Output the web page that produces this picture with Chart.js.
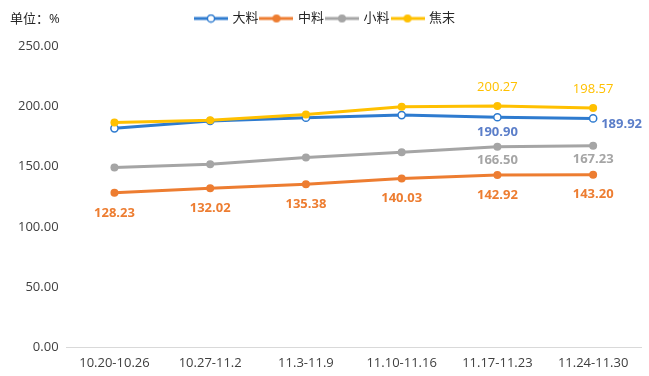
<!DOCTYPE html>
<html>
<head>
<meta charset="utf-8">
<script src="https://cdn.jsdelivr.net/npm/chart.js@4.4.1/dist/chart.umd.min.js"></script>
<style>
  html, body { margin: 0; padding: 0; background: #fff; }
  #wrap { width: 649px; height: 376px; }
</style>
</head>
<body>
<div id="wrap"><canvas id="chart"></canvas></div>
<script>
const weeks = ["10.20-10.26", "10.27-11.2", "11.3-11.9", "11.10-11.16", "11.17-11.23", "11.24-11.30"];
const daLiao = [181.7, 187.8, 190.5, 192.7, 190.90, 189.92];
const zhongLiao = [128.23, 132.02, 135.38, 140.03, 142.92, 143.20];
const xiaoLiao = [149.2, 151.9, 157.5, 161.9, 166.50, 167.23];
const jiaoMo = [186.6, 188.4, 193.2, 199.6, 200.27, 198.57];
const yMin = 0;
const yMax = 250;
const yStep = 50;

const FONT = '"Open Sans", "Noto Sans CJK SC", sans-serif';
Chart.defaults.font.family = FONT;

// legend swatch: short line with a marker in the middle
function legendSwatch(color, hollow) {
  const c = document.createElement("canvas");
  c.width = 34;
  c.height = 10;
  const ctx = c.getContext("2d");
  ctx.strokeStyle = color;
  ctx.lineWidth = 3;
  ctx.beginPath();
  ctx.moveTo(0, 5);
  ctx.lineTo(34, 5);
  ctx.stroke();
  ctx.beginPath();
  ctx.arc(17, 5, hollow ? 3.6 : 4, 0, Math.PI * 2);
  ctx.fillStyle = hollow ? "#fff" : color;
  ctx.fill();
  if (hollow) {
    ctx.lineWidth = 1.5;
    ctx.stroke();
  }
  return c;
}

const series = [
  { label: "大料", data: daLiao, color: "#2E7BCF", hollow: true, order: 2,
    labelAt: [4, 5], labelColor: "#5B7EC9", bold: true, below: 15, rightAt: [5] },
  { label: "中料", data: zhongLiao, color: "#ED7D31", hollow: false, order: 3,
    labelAt: [0, 1, 2, 3, 4, 5], labelColor: "#ED7D31", bold: true, below: 20, rightAt: [] },
  { label: "小料", data: xiaoLiao, color: "#A5A5A5", hollow: false, order: 4,
    labelAt: [4, 5], labelColor: "#A5A5A5", bold: true, below: 14, rightAt: [] },
  { label: "焦末", data: jiaoMo, color: "#FFC000", hollow: false, order: 1,
    labelAt: [4, 5], labelColor: "#FFC000", bold: false, below: -19, rightAt: [] },
];

const datasets = series.map((s) => ({
  label: s.label,
  data: s.data,
  borderColor: s.color,
  backgroundColor: s.hollow ? "#fff" : s.color,
  pointBackgroundColor: s.hollow ? "#fff" : s.color,
  pointBorderColor: s.color,
  pointBorderWidth: s.hollow ? 1.5 : 0,
  pointRadius: s.hollow ? 3.6 : 4,
  borderWidth: 3,
  tension: 0,
  order: s.order,
  swatch: legendSwatch(s.color, s.hollow),
  labelAt: s.labelAt,
  labelColor: s.labelColor,
  labelBold: s.bold,
  labelBelow: s.below,
  labelRight: s.rightAt,
}));

const pointLabels = {
  id: "pointLabels",
  afterDatasetsDraw(chart) {
    const ctx = chart.ctx;
    chart.data.datasets.forEach((ds, di) => {
      const meta = chart.getDatasetMeta(di);
      ds.labelAt.forEach((i) => {
        const pt = meta.data[i];
        ctx.save();
        ctx.font = (ds.labelBold ? "bold " : "") + "13px " + FONT;
        ctx.fillStyle = ds.labelColor;
        ctx.textBaseline = "middle";
        if (ds.labelRight.includes(i)) {
          ctx.textAlign = "left";
          ctx.fillText(ds.data[i].toFixed(2), pt.x + 8, pt.y + 6);
        } else {
          ctx.textAlign = "center";
          ctx.fillText(ds.data[i].toFixed(2), pt.x, pt.y + ds.labelBelow);
        }
        ctx.restore();
      });
    });
  },
};

const unitTitle = {
  id: "unitTitle",
  beforeInit(chart) {
    // leave extra room under the legend row
    const fit = chart.legend.fit;
    chart.legend.fit = function () {
      fit.call(this);
      this.height += 11;
    };
  },
  afterDraw(chart) {
    const ctx = chart.ctx;
    ctx.save();
    ctx.font = "13px " + FONT;
    ctx.fillStyle = "#262626";
    ctx.textBaseline = "middle";
    ctx.textAlign = "left";
    ctx.fillText("单位：%", 10, 19);
    ctx.restore();
  },
};

new Chart(document.getElementById("chart"), {
  type: "line",
  data: { labels: weeks, datasets },
  plugins: [pointLabels, unitTitle],
  options: {
    responsive: true,
    maintainAspectRatio: false,
    animation: false,
    layout: { padding: { top: 9, left: 10, right: 8, bottom: -3 } },
    plugins: {
      tooltip: { enabled: false },
      legend: {
        position: "top",
        labels: {
          usePointStyle: true,
          pointStyleWidth: 30,
          padding: 3,
          color: "#262626",
          font: { size: 13 },
          generateLabels(chart) {
            return chart.data.datasets.map((ds, i) => ({
              text: ds.label,
              pointStyle: ds.swatch,
              fillStyle: ds.borderColor,
              strokeStyle: ds.borderColor,
              lineWidth: 0,
              fontColor: "#262626",
              hidden: false,
              datasetIndex: i,
            }));
          },
        },
      },
    },
    scales: {
      x: {
        offset: true,
        grid: { display: false, drawTicks: false, offset: true },
        border: { display: true, color: "#D9D9D9", width: 1 },
        ticks: { color: "#404040", font: { size: 13 }, padding: 8, maxRotation: 0 },
      },
      y: {
        min: yMin,
        max: yMax,
        grid: { display: false, drawTicks: false },
        border: { display: false },
        ticks: {
          stepSize: yStep,
          color: "#404040",
          font: { size: 13 },
          padding: 8,
          callback: (v) => Number(v).toFixed(2),
        },
      },
    },
  },
});
</script>
</body>
</html>
